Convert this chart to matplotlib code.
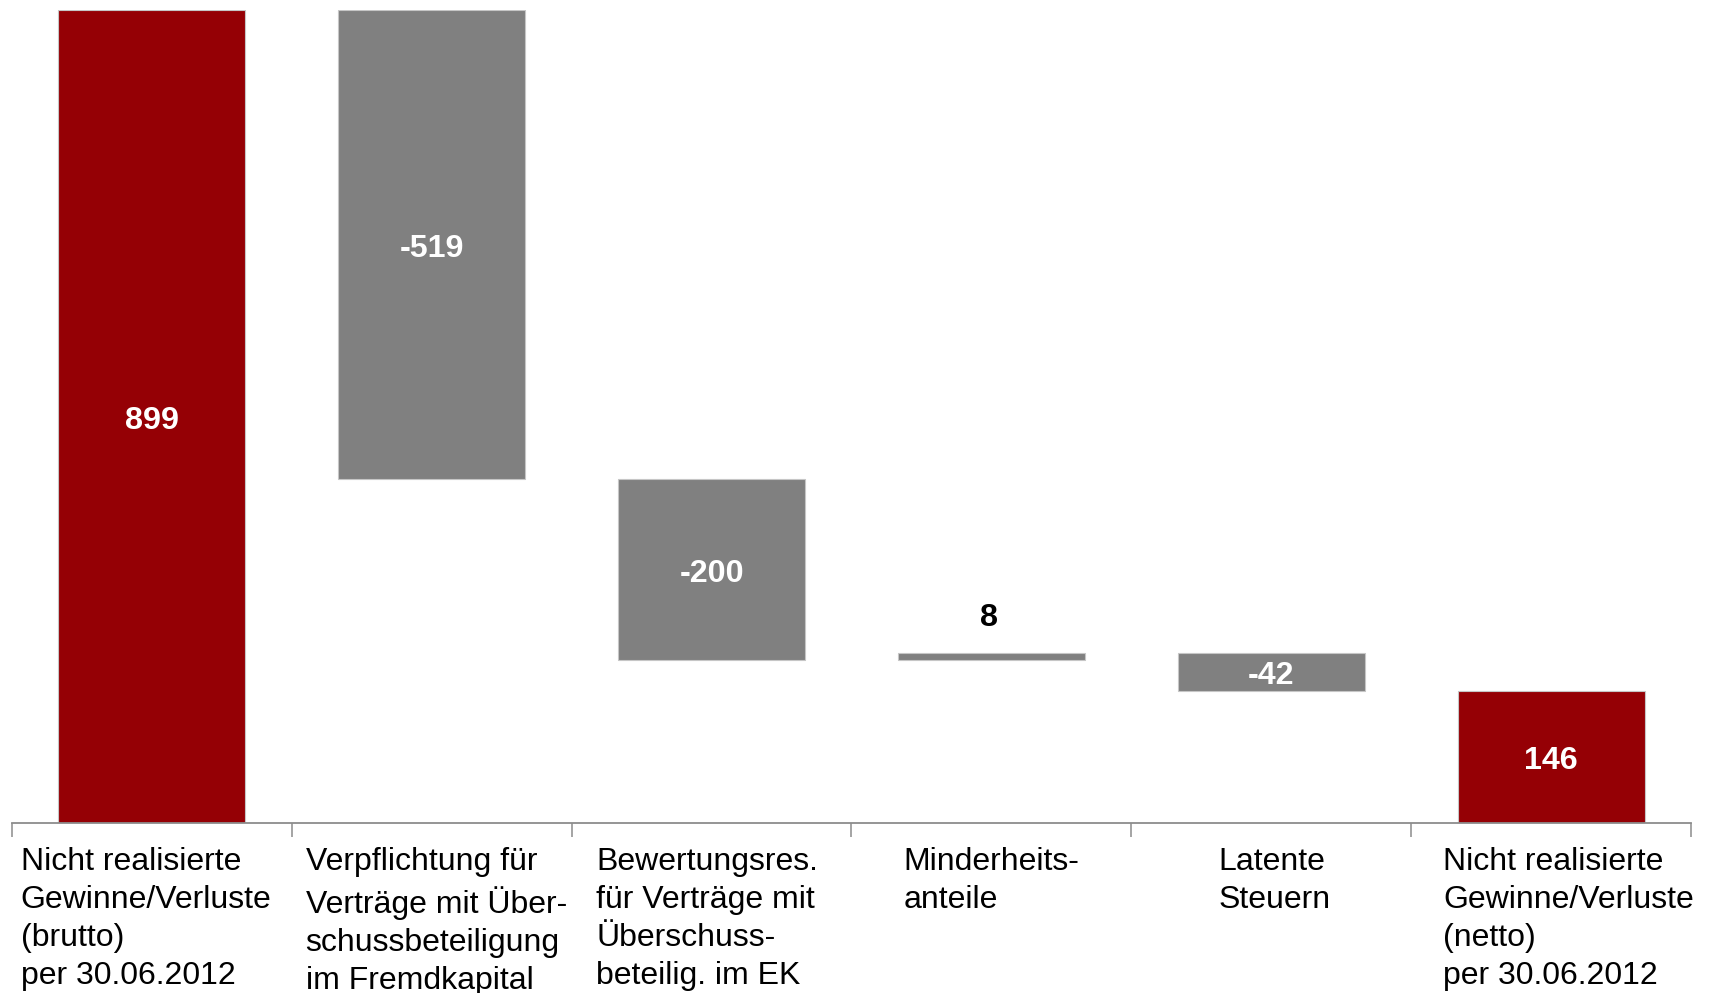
import matplotlib
matplotlib.use("Agg")
import matplotlib.pyplot as plt
import numpy as np

plt.rcParams['font.family'] = ['Liberation Sans', 'DejaVu Sans']

# Waterfall data (EUR m): start total, changes, end total
categories = [
    "Nicht realisierte\nGewinne/Verluste\n(brutto)\nper 30.06.2012",
    "Verpflichtung für\nVerträge mit Über-\nschussbeteiligung\nim Fremdkapital",
    "Bewertungsres.\nfür Verträge mit\nÜberschuss-\nbeteilig. im EK",
    "Minderheits-\nanteile",
    "Latente\nSteuern",
    "Nicht realisierte\nGewinne/Verluste\n(netto)\nper 30.06.2012",
]
values = [899, -519, -200, 8, -42, 146]
is_total = [True, False, False, False, False, True]
value_labels = ["899", "-519", "-200", "8", "-42", "146"]

RED = "#950005"
GREY = "#808080"
AXIS = "#8c8c8c"

# compute bar bottoms and heights
bottoms, heights = [], []
running = 0
for v, tot in zip(values, is_total):
    if tot:
        bottoms.append(0)
        heights.append(v)
        running = v
    else:
        if v >= 0:
            bottoms.append(running)
            heights.append(v)
        else:
            bottoms.append(running + v)
            heights.append(-v)
        running += v

colors = [RED if t else GREY for t in is_total]
x = np.arange(len(values))

fig = plt.figure(figsize=(17.12, 9.93), dpi=100)
ax = fig.add_axes([12 / 1712, (993 - 823) / 993, (1691 - 12) / 1712, (823 - 10) / 993])

ax.bar(x, heights, bottom=bottoms, width=0.668, color=colors,
       edgecolor="#c6c6c6", linewidth=0.8, zorder=2)

ax.set_xlim(-0.5, len(values) - 0.5)
ax.set_ylim(0, 899)

# value labels
for i, (b, h, lab) in enumerate(zip(bottoms, heights, value_labels)):
    if h < 20:
        ax.annotate(lab, xy=(i - 0.01, b + h), xytext=(0, 25), textcoords="offset points",
                    ha="center", va="center", fontsize=23.2, fontweight="bold", color="black")
    else:
        ax.annotate(lab, xy=(i, b + h / 2), xytext=(0, -3.2), textcoords="offset points",
                    ha="center", va="center", fontsize=23.2,
                    fontweight="bold", color="white", zorder=3)

# spines and ticks
for s in ["top", "right", "left"]:
    ax.spines[s].set_visible(False)
ax.spines["bottom"].set_color(AXIS)
ax.spines["bottom"].set_linewidth(1.3)
ax.set_yticks([])
ax.set_xticks(np.arange(-0.5, len(values), 1.0))
ax.set_xticklabels([])
ax.tick_params(axis="x", direction="out", length=10, width=1.1, color=AXIS)

# category labels
label_shift = [-0.021, 0.016, -0.016, 0, 0.012, 0.063]
for i, (cat, sh) in enumerate(zip(categories, label_shift)):
    ax.annotate(cat, xy=(i + sh, 0), xycoords=("data", "axes fraction"),
                xytext=(0, -17.6), textcoords="offset points",
                ha="center", va="top", multialignment="left",
                fontsize=23.0, linespacing=1.34, color="black", annotation_clip=False)

fig.savefig("out.png", dpi=100, facecolor="white")
